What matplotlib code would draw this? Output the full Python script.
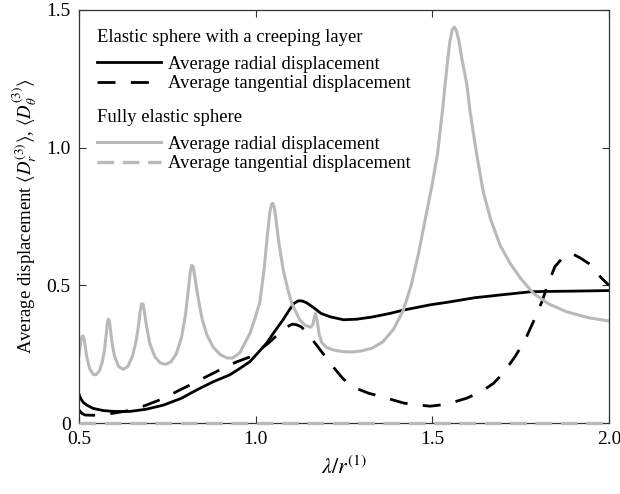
import matplotlib
matplotlib.use("Agg")
import matplotlib.pyplot as plt
import numpy as np

plt.rcParams['font.family'] = ['Liberation Serif', 'DejaVu Serif']
plt.rcParams['mathtext.fontset'] = 'stix'

# fully elastic sphere, average radial displacement
el_r_x = [0.500, 0.503, 0.506, 0.509, 0.512, 0.515, 0.518, 0.522, 0.530, 0.540,
          0.548, 0.558, 0.566, 0.572, 0.577, 0.580, 0.583, 0.586, 0.589, 0.593,
          0.600, 0.612, 0.625, 0.638, 0.652, 0.662, 0.668, 0.673, 0.677, 0.681,
          0.685, 0.690, 0.700, 0.715, 0.730, 0.745, 0.760, 0.775, 0.790, 0.801,
          0.809, 0.815, 0.819, 0.823, 0.828, 0.835, 0.848, 0.862, 0.880, 0.900,
          0.920, 0.935, 0.955, 0.984, 0.998, 1.012, 1.024, 1.033, 1.040, 1.045,
          1.049, 1.053, 1.058, 1.065, 1.078, 1.090, 1.102, 1.125, 1.140, 1.156,
          1.162, 1.166, 1.169, 1.173, 1.180, 1.187, 1.200, 1.220, 1.248, 1.275,
          1.300, 1.330, 1.360, 1.390, 1.418, 1.440, 1.460, 1.480, 1.500, 1.515,
          1.530, 1.541, 1.549, 1.556, 1.562, 1.568, 1.575, 1.584, 1.597, 1.607,
          1.625, 1.644, 1.665, 1.692, 1.720, 1.750, 1.786, 1.830, 1.880, 1.940,
          2.000]
el_r_y = [0.245, 0.275, 0.302, 0.315, 0.316, 0.302, 0.275, 0.240, 0.198, 0.177,
          0.175, 0.190, 0.222, 0.265, 0.320, 0.360, 0.377, 0.370, 0.340, 0.295,
          0.245, 0.205, 0.195, 0.205, 0.245, 0.300, 0.350, 0.405, 0.433, 0.432,
          0.405, 0.360, 0.290, 0.240, 0.218, 0.213, 0.222, 0.250, 0.310, 0.390,
          0.480, 0.550, 0.573, 0.568, 0.530, 0.470, 0.380, 0.320, 0.275, 0.248,
          0.236, 0.236, 0.255, 0.326, 0.380, 0.440, 0.560, 0.680, 0.765, 0.795,
          0.798, 0.780, 0.735, 0.660, 0.556, 0.490, 0.435, 0.374, 0.355, 0.348,
          0.358, 0.385, 0.398, 0.380, 0.320, 0.292, 0.275, 0.265, 0.259, 0.258,
          0.262, 0.272, 0.295, 0.340, 0.410, 0.500, 0.610, 0.740, 0.870, 0.980,
          1.150, 1.290, 1.380, 1.428, 1.438, 1.425, 1.390, 1.320, 1.234, 1.130,
          0.980, 0.840, 0.740, 0.645, 0.580, 0.525, 0.471, 0.432, 0.404, 0.383,
          0.370]

# fully elastic sphere, average tangential displacement (zero)
el_t_x = [0.5, 2.0]
el_t_y = [0.0, 0.0]

# elastic sphere with a creeping layer, average radial displacement
cr_r_x = [0.500, 0.505, 0.512, 0.522, 0.540, 0.569, 0.600, 0.644, 0.690, 0.739,
          0.790, 0.833, 0.880, 0.927, 0.955, 0.984, 1.031, 1.055, 1.078, 1.095,
          1.108, 1.121, 1.132, 1.145, 1.165, 1.185, 1.210, 1.248, 1.286, 1.330,
          1.380, 1.418, 1.493, 1.550, 1.620, 1.692, 1.781, 1.833, 1.900, 2.000]
cr_r_y = [0.105, 0.088, 0.075, 0.065, 0.053, 0.045, 0.042, 0.042, 0.050, 0.065,
          0.090, 0.120, 0.150, 0.175, 0.198, 0.223, 0.290, 0.335, 0.376, 0.410,
          0.434, 0.444, 0.443, 0.436, 0.418, 0.398, 0.386, 0.375, 0.377, 0.385,
          0.398, 0.410, 0.429, 0.440, 0.455, 0.465, 0.477, 0.478, 0.479, 0.481]

# elastic sphere with a creeping layer, average tangential displacement
cr_t_x = [0.500, 0.508, 0.517, 0.540, 0.570, 0.600, 0.640, 0.680, 0.729, 0.770,
          0.814, 0.860, 0.908, 0.946, 0.984, 1.036, 1.060, 1.080, 1.097, 1.105,
          1.115, 1.128, 1.145, 1.168, 1.201, 1.225, 1.248, 1.280, 1.320, 1.361,
          1.420, 1.493, 1.540, 1.597, 1.640, 1.673, 1.700, 1.734, 1.762, 1.786,
          1.810, 1.828, 1.847, 1.870, 1.894, 1.918, 1.942, 1.979, 2.000]
cr_t_y = [0.047, 0.035, 0.029, 0.028, 0.031, 0.036, 0.045, 0.060, 0.084, 0.110,
          0.138, 0.168, 0.199, 0.222, 0.240, 0.290, 0.318, 0.342, 0.355, 0.359,
          0.357, 0.350, 0.330, 0.290, 0.235, 0.195, 0.160, 0.128, 0.108, 0.094,
          0.072, 0.061, 0.068, 0.090, 0.115, 0.144, 0.180, 0.241, 0.300, 0.368,
          0.440, 0.507, 0.568, 0.602, 0.616, 0.600, 0.580, 0.526, 0.500]

GRAY = '#b9b9b9'

fig = plt.figure(figsize=(6.2, 4.94), dpi=100)
ax = fig.add_subplot(111)
fig.subplots_adjust(left=79/620, right=609/620, bottom=1-423/494, top=1-10/494)

l_cr_r, = ax.plot(cr_r_x, cr_r_y, color='black', lw=2.0)
l_cr_t, = ax.plot(cr_t_x, cr_t_y, color='black', lw=2.0, linestyle=(0, (6.5, 5.5)))
l_el_r, = ax.plot(el_r_x, el_r_y, color=GRAY, lw=2.2)
l_el_t, = ax.plot(el_t_x, el_t_y, color=GRAY, lw=2.4, linestyle=(0, (5.0, 2.6)),
                  clip_on=False, zorder=3)

ax.set_xlim(0.5, 2.0)
ax.set_ylim(0, 1.5)
ax.set_xticks([0.5, 1.0, 1.5, 2.0])
ax.set_xticklabels(['0.5', '1.0', '1.5', '2.0'])
ax.set_yticks([0, 0.5, 1.0, 1.5])
ax.set_yticklabels(['0', '0.5', '1.0', '1.5'])
ax.tick_params(direction='in', top=True, right=True, length=5, width=0.8,
               labelsize=14, colors='#333333', labelcolor='black', pad=6)
for s in ax.spines.values():
    s.set_color('#333333')
    s.set_linewidth(0.9)

ax.set_xlabel(r'$\lambda/r^{(1)}$', fontsize=16, labelpad=6)
ax.set_ylabel(r'Average displacement $\langle D_r^{(3)}\rangle$, $\langle D_\theta^{(3)}\rangle$',
              fontsize=13.5, labelpad=5)

legkw = dict(loc='upper left', frameon=False, fontsize=13.4, title_fontsize=13.4,
             alignment='left', handlelength=3.45, handletextpad=0.38,
             labelspacing=0.14, borderaxespad=0, borderpad=0)
leg1 = ax.legend([l_cr_r, l_cr_t],
                 ['Average radial displacement', 'Average tangential displacement'],
                 title='Elastic sphere with a creeping layer',
                 bbox_to_anchor=(18/530, 1-19/413), **legkw)
leg1._legend_box.sep = 7
ax.add_artist(leg1)
leg2 = ax.legend([l_el_r, l_el_t],
                 ['Average radial displacement', 'Average tangential displacement'],
                 title='Fully elastic sphere',
                 bbox_to_anchor=(18/530, 1-99/413), **legkw)
leg2._legend_box.sep = 7

fig.savefig('out.png', dpi=100)
